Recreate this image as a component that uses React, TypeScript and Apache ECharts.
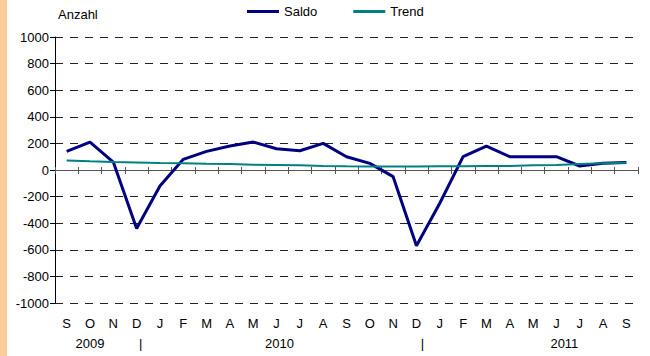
import React, { useEffect, useRef } from "react";
import * as echarts from "echarts";

const months = ["S", "O", "N", "D", "J", "F", "M", "A", "M", "J", "J", "A", "S", "O", "N", "D", "J", "F", "M", "A", "M", "J", "J", "A", "S"];
const yearLabels = ["", "2009", "", "|", "", "", "", "", "", "2010", "", "", "", "", "", "|", "", "", "", "", "", "2011", "", "", ""];
const saldo = [140, 210, 60, -440, -120, 80, 140, 180, 210, 160, 145, 200, 100, 50, -50, -570, -250, 100, 180, 100, 100, 100, 30, 50, 57];
const trend = [72, 65, 60, 56, 52, 50, 47, 45, 40, 38, 36, 30, 28, 27, 27, 27, 28, 28, 30, 30, 35, 38, 45, 50, 55];
const yMin = -1000;
const yMax = 1000;
const yStep = 200;

const FONT = "'Liberation Sans', Arial, sans-serif";
// horizontal nudges (px) of the year-row labels, by category index
const yearShift: Record<number, number> = { 1: 0, 3: 4, 9: 3, 15: 6, 21: 8 };

export default function App() {
  const ref = useRef<HTMLDivElement>(null);
  useEffect(() => {
    if (!ref.current) return;
    const chart = echarts.init(ref.current, undefined, { renderer: "svg" });
    const baseX = {
      type: "category" as const,
      data: months,
      boundaryGap: true,
      gridIndex: 0,
    };
    chart.setOption({
      animation: false,
      backgroundColor: "#ffffff",
      textStyle: { fontFamily: FONT },
      grid: { left: 55, right: 12, top: 37, bottom: 53, containLabel: false },
      legend: {
        left: 242,
        top: 0,
        padding: 5,
        icon: "rect",
        itemWidth: 32,
        itemHeight: 3,
        itemGap: 36,
        itemTextGap: 3,
        textStyle: { fontSize: 13, color: "#000", fontFamily: FONT },
        data: ["Saldo", "Trend"],
      },
      xAxis: [
        {
          ...baseX,
          position: "bottom",
          axisLine: { show: true, onZero: true, onZeroAxisIndex: 0, lineStyle: { color: "#555", width: 1 } },
          axisTick: { show: true, inside: false, length: 4, interval: 0, lineStyle: { color: "#555" } },
          axisLabel: { show: false },
          splitLine: { show: false },
        },
        {
          ...baseX,
          position: "bottom",
          axisLine: { show: false, onZero: true, onZeroAxisIndex: 1 },
          axisTick: { show: true, inside: true, length: 3, interval: 0, lineStyle: { color: "#555" } },
          axisLabel: { show: false },
          splitLine: { show: false },
        },
        {
          ...baseX,
          position: "bottom",
          axisLine: { show: false, onZero: false },
          axisTick: { show: false },
          axisLabel: { show: true, interval: 0, margin: 14, fontSize: 13, color: "#000", fontFamily: FONT },
          splitLine: { show: false },
        },
        {
          ...baseX,
          data: yearLabels,
          position: "bottom",
          offset: 20,
          axisLine: { show: false, onZero: false },
          axisTick: { show: false },
          axisLabel: {
            show: true,
            interval: 0,
            margin: 14,
            fontSize: 13,
            color: "#000",
            fontFamily: FONT,
            formatter: (v: string, i: number) => (v ? `{s${yearShift[i] ?? 0}|${v}}` : ""),
            rich: {
              s0: { padding: [0, 0, 0, 0], fontSize: 13, fontFamily: FONT },
              s3: { padding: [0, 0, 0, 6], fontSize: 13, fontFamily: FONT },
              s4: { padding: [0, 0, 0, 8], fontSize: 13, fontFamily: FONT },
              s6: { padding: [0, 0, 0, 12], fontSize: 13, fontFamily: FONT },
              s8: { padding: [0, 0, 0, 16], fontSize: 13, fontFamily: FONT },
            },
          },
          splitLine: { show: false },
        },
      ],
      yAxis: [
        {
          type: "value",
          min: yMin,
          max: yMax,
          interval: yStep,
          name: "Anzahl",
          nameLocation: "end",
          nameGap: 23,
          nameTextStyle: { align: "left", verticalAlign: "middle", fontSize: 13, color: "#000", fontFamily: FONT, padding: [0, 0, 0, 3] },
          axisLine: { show: true, lineStyle: { color: "#000", width: 1 } },
          axisTick: { show: true, length: 5, lineStyle: { color: "#000" } },
          axisLabel: { fontSize: 13, color: "#000", margin: 6, fontFamily: FONT, formatter: (v: number) => String(v) },
          splitLine: { show: true, lineStyle: { color: "#222", width: 1, type: [8, 7] } },
        },
        {
          type: "value",
          min: yMin,
          max: yMax,
          interval: yStep,
          show: false,
          splitLine: { show: false },
        },
      ],
      series: [
        {
          name: "Saldo",
          type: "line",
          data: saldo,
          xAxisIndex: 0,
          yAxisIndex: 0,
          symbol: "none",
          lineStyle: { color: "#000080", width: 3 },
          itemStyle: { color: "#000080" },
        },
        {
          name: "Trend",
          type: "line",
          data: trend,
          xAxisIndex: 0,
          yAxisIndex: 0,
          symbol: "none",
          lineStyle: { color: "#008080", width: 2 },
          itemStyle: { color: "#008080" },
        },
      ],
    });
    return () => chart.dispose();
  }, []);
  return (
    <div style={{ position: "fixed", left: 0, top: 0, width: 650, height: 356, background: "#fff" }}>
      <div ref={ref} style={{ position: "absolute", left: 0, top: 0, width: 650, height: 356 }} />
      <div style={{ position: "absolute", left: 0, top: 0, width: 7, height: 356, background: "#FFCC99" }} />
    </div>
  );
}
